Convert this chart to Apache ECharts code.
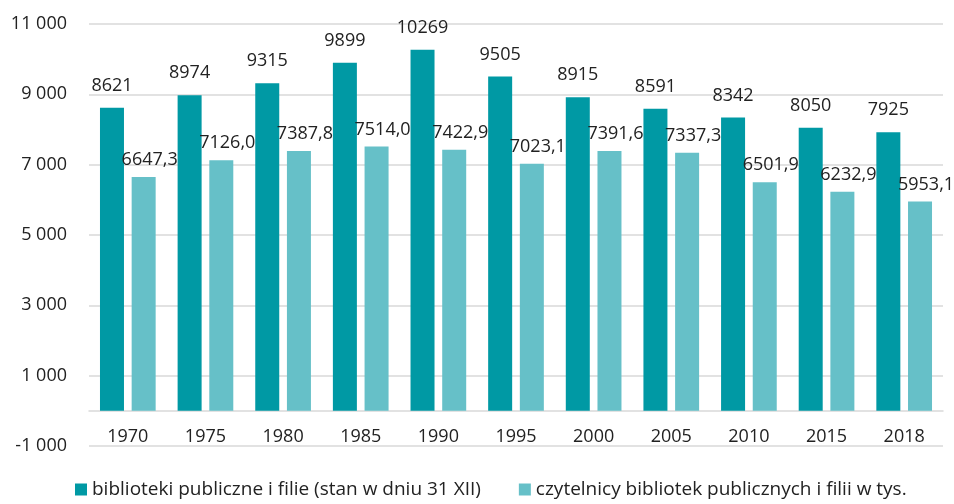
<!DOCTYPE html>
<html><head><meta charset="utf-8">
<script src="https://cdn.jsdelivr.net/npm/echarts@6/dist/echarts.min.js"></script>
<style>html,body{margin:0;padding:0;background:#fff}#c{width:954px;height:504px}</style>
</head><body><div id="c"></div>
<script>
const categories = ['1970','1975','1980','1985','1990','1995','2000','2005','2010','2015','2018'];
const libraries = [8621, 8974, 9315, 9899, 10269, 9505, 8915, 8591, 8342, 8050, 7925];
const readers = [6647.3, 7126.0, 7387.8, 7514.0, 7422.9, 7023.1, 7391.6, 7337.3, 6501.9, 6232.9, 5953.1];
const seriesNames = ['biblioteki publiczne i filie (stan w dniu 31 XII)', 'czytelnicy bibliotek publicznych i filii w tys.'];

const FONT = '"Open Sans", "DejaVu Sans", sans-serif';
const chart = echarts.init(document.getElementById('c'));
function fmtThousands(v){
  const s = Math.abs(v).toString().replace(/\B(?=(\d{3})+(?!\d))/g, ' ');
  return (v < 0 ? '-' : '') + s;
}
chart.setOption({
  animation: false,
  textStyle: {fontFamily: FONT},
  grid: {left: 89, right: 11, top: 24, bottom: 58},
  legend: {
    bottom: 0, left: 70, itemWidth: 12, itemHeight: 12, itemGap: 38,
    icon: 'rect',
    textStyle: {fontSize: 19, color: '#222', fontFamily: FONT}
  },
  xAxis: {
    type: 'category', data: categories,
    axisLine: {show: true, onZero: true, lineStyle: {color: '#d9d9d9', width: 1.5}},
    axisTick: {show: false},
    axisLabel: {color: '#222', fontSize: 18, margin: -18, fontFamily: FONT}
  },
  yAxis: {
    type: 'value', min: -1000, max: 11000, interval: 2000,
    axisLine: {show: false}, axisTick: {show: false},
    splitLine: {lineStyle: {color: '#d9d9d9', width: 1.5}},
    axisLabel: {color: '#222', fontSize: 18, margin: 22, fontFamily: FONT, formatter: fmtThousands}
  },
  series: [
    {
      name: seriesNames[0], type: 'bar', data: libraries,
      barWidth: 24, barGap: '32%',
      itemStyle: {color: '#0099a4'},
      label: {show: true, position: 'top', distance: 13, color: '#222', fontSize: 18, fontFamily: FONT,
        formatter: p => String(p.value)}
    },
    {
      name: seriesNames[1], type: 'bar', data: readers,
      barWidth: 24,
      itemStyle: {color: '#66c0c8'},
      label: {show: true, position: 'top', distance: 8, offset: [6, 0], color: '#222', fontSize: 18, fontFamily: FONT,
        formatter: p => p.value.toFixed(1).replace('.', ',')}
    }
  ]
});
</script></body></html>
